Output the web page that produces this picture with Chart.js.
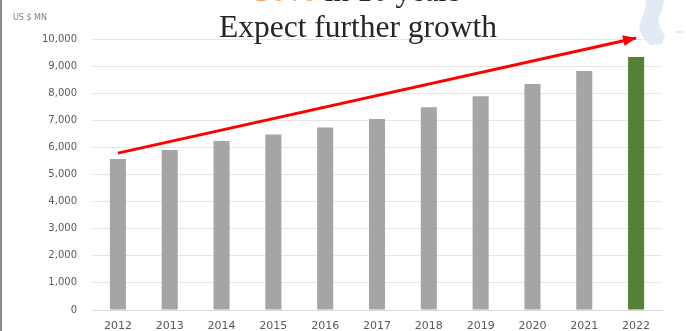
<!DOCTYPE html>
<html>
<head>
<meta charset="utf-8">
<script src="https://cdn.jsdelivr.net/npm/chart.js@4"></script>
<style>
  html, body { margin: 0; padding: 0; background: #fff; }
  #wrap { width: 686px; height: 331px; position: relative; }
</style>
</head>
<body>
<div id="wrap"><canvas id="chart" width="686" height="331"></canvas></div>
<script>
const YEARS = ["2012", "2013", "2014", "2015", "2016", "2017", "2018", "2019", "2020", "2021", "2022"];
const MARKET_SIZE = [5570, 5900, 6240, 6480, 6730, 7050, 7480, 7890, 8340, 8820, 9340];
const TREND = [5790, null, null, null, null, null, null, null, null, null, 10040];
const BAR_COLORS = ["#a5a5a5", "#a5a5a5", "#a5a5a5", "#a5a5a5", "#a5a5a5", "#a5a5a5",
  "#a5a5a5", "#a5a5a5", "#a5a5a5", "#a5a5a5", "#548235"];
const UNIT_LABEL = "US $ MN";
const TITLE = "Expect further growth";
const SUBTITLE_HIGHLIGHT = "30%";
const SUBTITLE_REST = " in 10 years";

// frame, clipped headline, title and the decorative smudge in the corner
const decorPlugin = {
  id: "decor",
  beforeDraw(chart) {
    const ctx = chart.ctx;
    ctx.save();
    ctx.fillStyle = "#fff";
    ctx.fillRect(0, 0, chart.width, chart.height);
    ctx.strokeStyle = "#8c8c8c";
    ctx.lineWidth = 2;
    ctx.beginPath();
    ctx.moveTo(1, 0);
    ctx.lineTo(1, chart.height);
    ctx.stroke();

    // light blue smudge
    ctx.fillStyle = "#e2eaf3";
    ctx.beginPath();
    ctx.moveTo(646, 0);
    ctx.lineTo(664, 0);
    ctx.lineTo(662, 10);
    ctx.lineTo(658, 18);
    ctx.lineTo(660, 27);
    ctx.lineTo(665, 36);
    ctx.lineTo(662, 44);
    ctx.lineTo(650, 45);
    ctx.lineTo(644, 38);
    ctx.lineTo(639, 30);
    ctx.lineTo(641, 20);
    ctx.lineTo(645, 10);
    ctx.closePath();
    ctx.fill();
    ctx.fillRect(675, 31, 8, 2);
    ctx.restore();
  },
  afterDraw(chart) {
    const ctx = chart.ctx;
    ctx.save();
    ctx.textBaseline = "alphabetic";
    ctx.font = "8px 'DejaVu Sans'";
    ctx.fillStyle = "#7f7f7f";
    ctx.textAlign = "left";
    ctx.fillText(UNIT_LABEL, 13, 20);

    ctx.font = "31.5px 'Liberation Serif'";
    ctx.fillStyle = "#262626";
    ctx.textAlign = "center";
    ctx.fillText(TITLE, 358, 37);

    // headline above, mostly cut off by the top edge
    ctx.textAlign = "left";
    ctx.font = "bold 31px 'Liberation Serif'";
    const w1 = ctx.measureText(SUBTITLE_HIGHLIGHT).width;
    ctx.font = "31px 'Liberation Serif'";
    const w2 = ctx.measureText(SUBTITLE_REST).width;
    const x0 = 358 - (w1 + w2) / 2;
    ctx.font = "bold 31px 'Liberation Serif'";
    ctx.fillStyle = "#f4a460";
    ctx.fillText(SUBTITLE_HIGHLIGHT, x0, 1);
    ctx.font = "31px 'Liberation Serif'";
    ctx.fillStyle = "#262626";
    ctx.fillText(SUBTITLE_REST, x0 + w1, 1);
    ctx.restore();
  },
  afterDatasetsDraw(chart) {
    // arrowhead at the end of the trend line
    const meta = chart.getDatasetMeta(1);
    const pts = meta.data;
    const a = pts[0], b = pts[pts.length - 1];
    const ang = Math.atan2(b.y - a.y, b.x - a.x);
    const len = 13, half = 5.5;
    const ctx = chart.ctx;
    ctx.save();
    ctx.fillStyle = "#ff0000";
    ctx.translate(b.x, b.y);
    ctx.rotate(ang);
    ctx.beginPath();
    ctx.moveTo(0, 0);
    ctx.lineTo(-len, -half);
    ctx.lineTo(-len, half);
    ctx.closePath();
    ctx.fill();
    ctx.restore();
  },
};

new Chart(document.getElementById("chart"), {
  data: {
    labels: YEARS,
    datasets: [
      {
        type: "bar",
        data: MARKET_SIZE,
        backgroundColor: BAR_COLORS,
        barPercentage: 0.62,
        categoryPercentage: 0.5,
        order: 2,
      },
      {
        type: "line",
        data: TREND,
        spanGaps: true,
        borderColor: "#ff0000",
        borderWidth: 3,
        pointRadius: 0,
        clip: false,
        order: 1,
      },
    ],
  },
  options: {
    responsive: false,
    animation: false,
    devicePixelRatio: 1,
    layout: { padding: { top: 39, right: 24, bottom: 0, left: 0 } },
    plugins: {
      legend: { display: false },
      tooltip: { enabled: false },
    },
    scales: {
      x: {
        afterFit(scale) { scale.height = 21; },
        grid: { display: false, drawTicks: false },
        border: { display: true, color: "#d9d9d9", width: 1 },
        ticks: {
          color: "#595959",
          font: { family: "DejaVu Sans", size: 11 },
          padding: 10,
          maxRotation: 0,
          autoSkip: false,
        },
      },
      y: {
        min: 0,
        max: 10000,
        afterFit(scale) { scale.width = 92; },
        grid: { color: "#e6e6e6", drawTicks: false },
        border: { display: false },
        ticks: {
          stepSize: 1000,
          autoSkip: false,
          color: "#595959",
          font: { family: "DejaVu Sans", size: 10 },
          padding: 15,
          callback: (v) => v.toLocaleString("en-US"),
        },
      },
    },
  },
  plugins: [decorPlugin],
});
</script>
</body>
</html>
